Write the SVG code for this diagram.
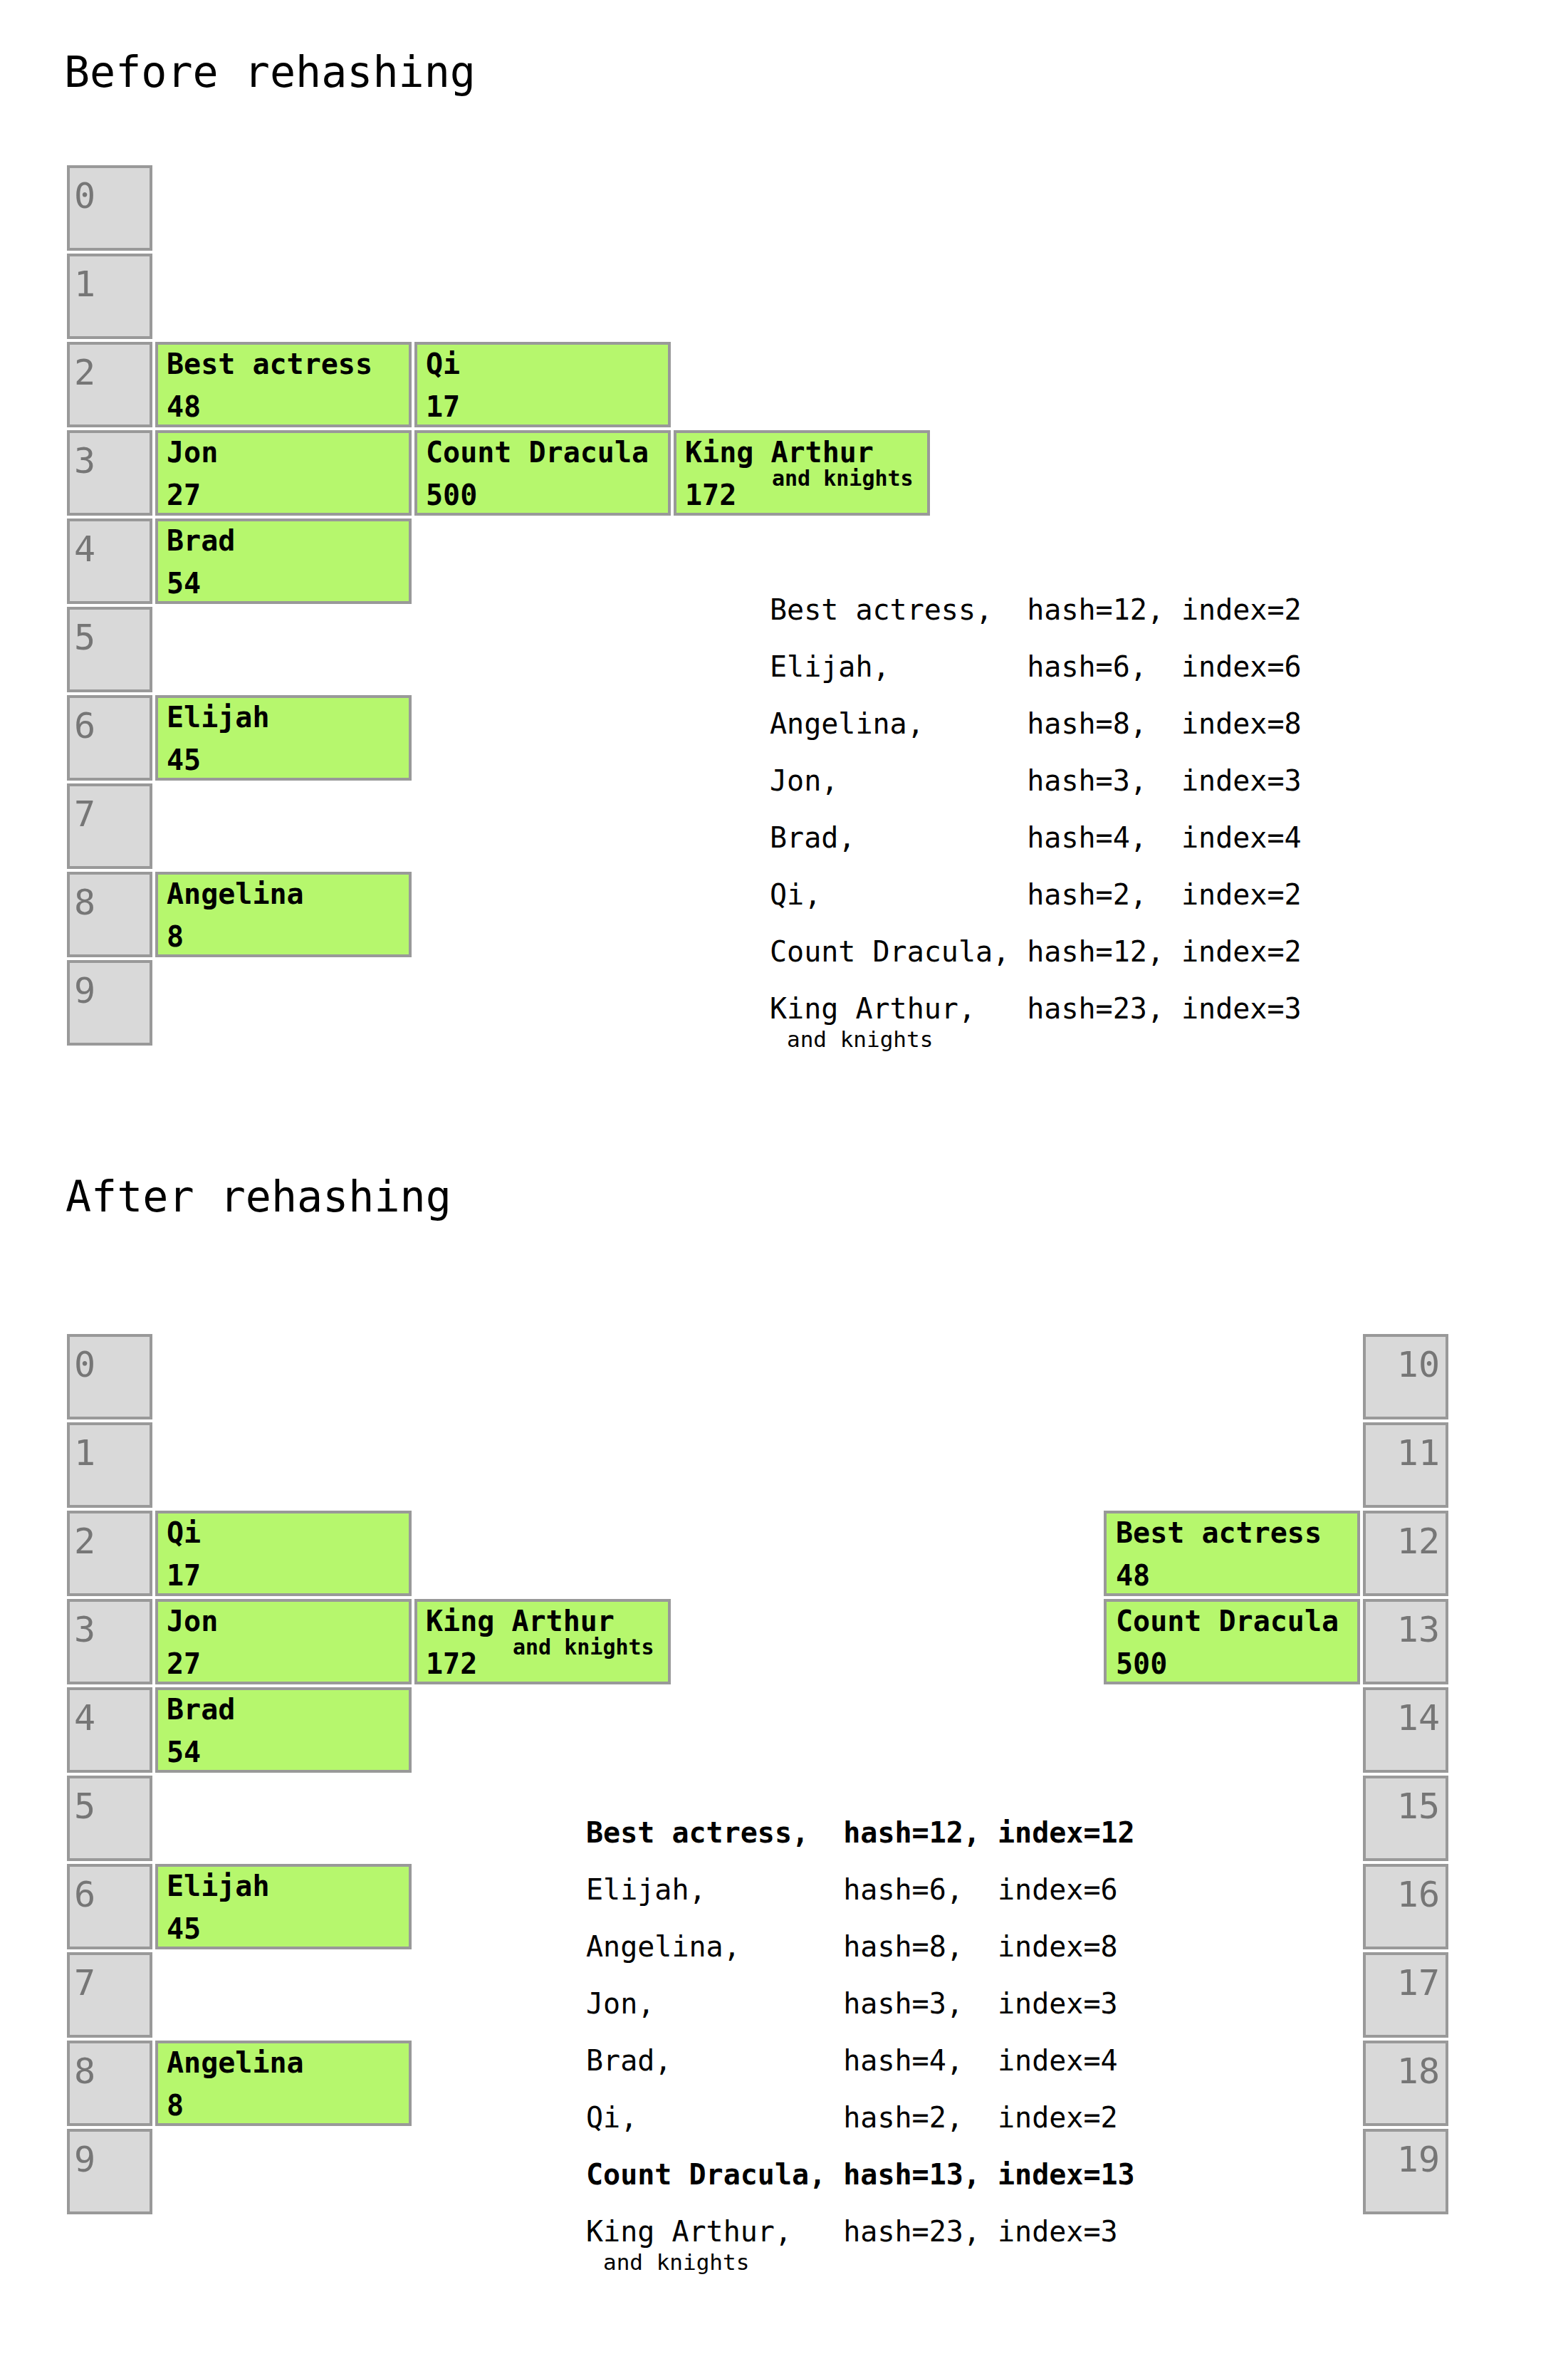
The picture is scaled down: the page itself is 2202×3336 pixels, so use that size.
<svg xmlns="http://www.w3.org/2000/svg" width="2202" height="3336" viewBox="0 0 2202 3336">
<style>
  text { font-family: "DejaVu Sans Mono", "Liberation Mono", monospace; }
  .title { font-size: 60px; fill: #000; }
  .slot { fill: #d9d9d9; stroke: #999999; stroke-width: 4; }
  .entry { fill: #b6f76d; stroke: #999999; stroke-width: 4; }
  .idx { font-size: 50px; fill: #767676; }
  .idxr { font-size: 50px; fill: #767676; text-anchor: end; }
  .key { font-size: 40px; font-weight: bold; fill: #000; }
  .sub { font-size: 30px; font-weight: bold; fill: #000; }
  .list { font-size: 40px; fill: #000; white-space: pre; }
  .listb { font-size: 40px; font-weight: bold; fill: #000; white-space: pre; }
  .lsub { font-size: 31px; fill: #000; }
</style>
<rect width="2202" height="3336" fill="#ffffff"/>

<!-- ===== Before rehashing ===== -->
<text id="title-before" class="title" x="90" y="122">Before rehashing</text>

<g id="before-slots">
  <g id="b-slot-0"><rect class="slot" x="96" y="234" width="116" height="116"/><text class="idx" x="104" y="292">0</text></g>
  <g id="b-slot-1"><rect class="slot" x="96" y="358" width="116" height="116"/><text class="idx" x="104" y="416">1</text></g>
  <g id="b-slot-2"><rect class="slot" x="96" y="482" width="116" height="116"/><text class="idx" x="104" y="540">2</text></g>
  <g id="b-slot-3"><rect class="slot" x="96" y="606" width="116" height="116"/><text class="idx" x="104" y="664">3</text></g>
  <g id="b-slot-4"><rect class="slot" x="96" y="730" width="116" height="116"/><text class="idx" x="104" y="788">4</text></g>
  <g id="b-slot-5"><rect class="slot" x="96" y="854" width="116" height="116"/><text class="idx" x="104" y="912">5</text></g>
  <g id="b-slot-6"><rect class="slot" x="96" y="978" width="116" height="116"/><text class="idx" x="104" y="1036">6</text></g>
  <g id="b-slot-7"><rect class="slot" x="96" y="1102" width="116" height="116"/><text class="idx" x="104" y="1160">7</text></g>
  <g id="b-slot-8"><rect class="slot" x="96" y="1226" width="116" height="116"/><text class="idx" x="104" y="1284">8</text></g>
  <g id="b-slot-9"><rect class="slot" x="96" y="1350" width="116" height="116"/><text class="idx" x="104" y="1408">9</text></g>
</g>

<g id="before-entries">
  <g id="b-best-actress"><rect class="entry" x="220" y="482" width="356" height="116"/><text class="key" x="234" y="525">Best actress</text><text class="key" x="234" y="585">48</text></g>
  <g id="b-qi"><rect class="entry" x="584" y="482" width="356" height="116"/><text class="key" x="598" y="525">Qi</text><text class="key" x="598" y="585">17</text></g>
  <g id="b-jon"><rect class="entry" x="220" y="606" width="356" height="116"/><text class="key" x="234" y="649">Jon</text><text class="key" x="234" y="709">27</text></g>
  <g id="b-count-dracula"><rect class="entry" x="584" y="606" width="356" height="116"/><text class="key" x="598" y="649">Count Dracula</text><text class="key" x="598" y="709">500</text></g>
  <g id="b-king-arthur"><rect class="entry" x="948" y="606" width="356" height="116"/><text class="key" x="962" y="649">King Arthur</text><text class="sub" x="1084" y="682">and knights</text><text class="key" x="962" y="709">172</text></g>
  <g id="b-brad"><rect class="entry" x="220" y="730" width="356" height="116"/><text class="key" x="234" y="773">Brad</text><text class="key" x="234" y="833">54</text></g>
  <g id="b-elijah"><rect class="entry" x="220" y="978" width="356" height="116"/><text class="key" x="234" y="1021">Elijah</text><text class="key" x="234" y="1081">45</text></g>
  <g id="b-angelina"><rect class="entry" x="220" y="1226" width="356" height="116"/><text class="key" x="234" y="1269">Angelina</text><text class="key" x="234" y="1329">8</text></g>
</g>

<g id="before-list">
  <text class="list" xml:space="preserve" x="1081" y="870">Best actress,  hash=12, index=2</text>
  <text class="list" xml:space="preserve" x="1081" y="950">Elijah,        hash=6,  index=6</text>
  <text class="list" xml:space="preserve" x="1081" y="1030">Angelina,      hash=8,  index=8</text>
  <text class="list" xml:space="preserve" x="1081" y="1110">Jon,           hash=3,  index=3</text>
  <text class="list" xml:space="preserve" x="1081" y="1190">Brad,          hash=4,  index=4</text>
  <text class="list" xml:space="preserve" x="1081" y="1270">Qi,            hash=2,  index=2</text>
  <text class="list" xml:space="preserve" x="1081" y="1350">Count Dracula, hash=12, index=2</text>
  <text class="list" xml:space="preserve" x="1081" y="1430">King Arthur,   hash=23, index=3</text>
  <text class="lsub" x="1105" y="1470">and knights</text>
</g>

<!-- ===== After rehashing ===== -->
<text id="title-after" class="title" x="92" y="1701">After rehashing</text>

<g id="after-slots-left">
  <g id="a-slot-0"><rect class="slot" x="96" y="1875" width="116" height="116"/><text class="idx" x="104" y="1933">0</text></g>
  <g id="a-slot-1"><rect class="slot" x="96" y="1999" width="116" height="116"/><text class="idx" x="104" y="2057">1</text></g>
  <g id="a-slot-2"><rect class="slot" x="96" y="2123" width="116" height="116"/><text class="idx" x="104" y="2181">2</text></g>
  <g id="a-slot-3"><rect class="slot" x="96" y="2247" width="116" height="116"/><text class="idx" x="104" y="2305">3</text></g>
  <g id="a-slot-4"><rect class="slot" x="96" y="2371" width="116" height="116"/><text class="idx" x="104" y="2429">4</text></g>
  <g id="a-slot-5"><rect class="slot" x="96" y="2495" width="116" height="116"/><text class="idx" x="104" y="2553">5</text></g>
  <g id="a-slot-6"><rect class="slot" x="96" y="2619" width="116" height="116"/><text class="idx" x="104" y="2677">6</text></g>
  <g id="a-slot-7"><rect class="slot" x="96" y="2743" width="116" height="116"/><text class="idx" x="104" y="2801">7</text></g>
  <g id="a-slot-8"><rect class="slot" x="96" y="2867" width="116" height="116"/><text class="idx" x="104" y="2925">8</text></g>
  <g id="a-slot-9"><rect class="slot" x="96" y="2991" width="116" height="116"/><text class="idx" x="104" y="3049">9</text></g>
</g>

<g id="after-slots-right">
  <g id="a-slot-10"><rect class="slot" x="1916" y="1875" width="116" height="116"/><text class="idxr" x="2022" y="1933">10</text></g>
  <g id="a-slot-11"><rect class="slot" x="1916" y="1999" width="116" height="116"/><text class="idxr" x="2022" y="2057">11</text></g>
  <g id="a-slot-12"><rect class="slot" x="1916" y="2123" width="116" height="116"/><text class="idxr" x="2022" y="2181">12</text></g>
  <g id="a-slot-13"><rect class="slot" x="1916" y="2247" width="116" height="116"/><text class="idxr" x="2022" y="2305">13</text></g>
  <g id="a-slot-14"><rect class="slot" x="1916" y="2371" width="116" height="116"/><text class="idxr" x="2022" y="2429">14</text></g>
  <g id="a-slot-15"><rect class="slot" x="1916" y="2495" width="116" height="116"/><text class="idxr" x="2022" y="2553">15</text></g>
  <g id="a-slot-16"><rect class="slot" x="1916" y="2619" width="116" height="116"/><text class="idxr" x="2022" y="2677">16</text></g>
  <g id="a-slot-17"><rect class="slot" x="1916" y="2743" width="116" height="116"/><text class="idxr" x="2022" y="2801">17</text></g>
  <g id="a-slot-18"><rect class="slot" x="1916" y="2867" width="116" height="116"/><text class="idxr" x="2022" y="2925">18</text></g>
  <g id="a-slot-19"><rect class="slot" x="1916" y="2991" width="116" height="116"/><text class="idxr" x="2022" y="3049">19</text></g>
</g>

<g id="after-entries">
  <g id="a-qi"><rect class="entry" x="220" y="2123" width="356" height="116"/><text class="key" x="234" y="2166">Qi</text><text class="key" x="234" y="2226">17</text></g>
  <g id="a-jon"><rect class="entry" x="220" y="2247" width="356" height="116"/><text class="key" x="234" y="2290">Jon</text><text class="key" x="234" y="2350">27</text></g>
  <g id="a-king-arthur"><rect class="entry" x="584" y="2247" width="356" height="116"/><text class="key" x="598" y="2290">King Arthur</text><text class="sub" x="720" y="2323">and knights</text><text class="key" x="598" y="2350">172</text></g>
  <g id="a-brad"><rect class="entry" x="220" y="2371" width="356" height="116"/><text class="key" x="234" y="2414">Brad</text><text class="key" x="234" y="2474">54</text></g>
  <g id="a-elijah"><rect class="entry" x="220" y="2619" width="356" height="116"/><text class="key" x="234" y="2662">Elijah</text><text class="key" x="234" y="2722">45</text></g>
  <g id="a-angelina"><rect class="entry" x="220" y="2867" width="356" height="116"/><text class="key" x="234" y="2910">Angelina</text><text class="key" x="234" y="2970">8</text></g>
  <g id="a-best-actress"><rect class="entry" x="1552" y="2123" width="356" height="116"/><text class="key" x="1567" y="2166">Best actress</text><text class="key" x="1567" y="2226">48</text></g>
  <g id="a-count-dracula"><rect class="entry" x="1552" y="2247" width="356" height="116"/><text class="key" x="1567" y="2290">Count Dracula</text><text class="key" x="1567" y="2350">500</text></g>
</g>

<g id="after-list">
  <text class="listb" xml:space="preserve" x="823" y="2587">Best actress,  hash=12, index=12</text>
  <text class="list" xml:space="preserve" x="823" y="2667">Elijah,        hash=6,  index=6</text>
  <text class="list" xml:space="preserve" x="823" y="2747">Angelina,      hash=8,  index=8</text>
  <text class="list" xml:space="preserve" x="823" y="2827">Jon,           hash=3,  index=3</text>
  <text class="list" xml:space="preserve" x="823" y="2907">Brad,          hash=4,  index=4</text>
  <text class="list" xml:space="preserve" x="823" y="2987">Qi,            hash=2,  index=2</text>
  <text class="listb" xml:space="preserve" x="823" y="3067">Count Dracula, hash=13, index=13</text>
  <text class="list" xml:space="preserve" x="823" y="3147">King Arthur,   hash=23, index=3</text>
  <text class="lsub" x="847" y="3187">and knights</text>
</g>

<g id="connectors"></g>
</svg>
